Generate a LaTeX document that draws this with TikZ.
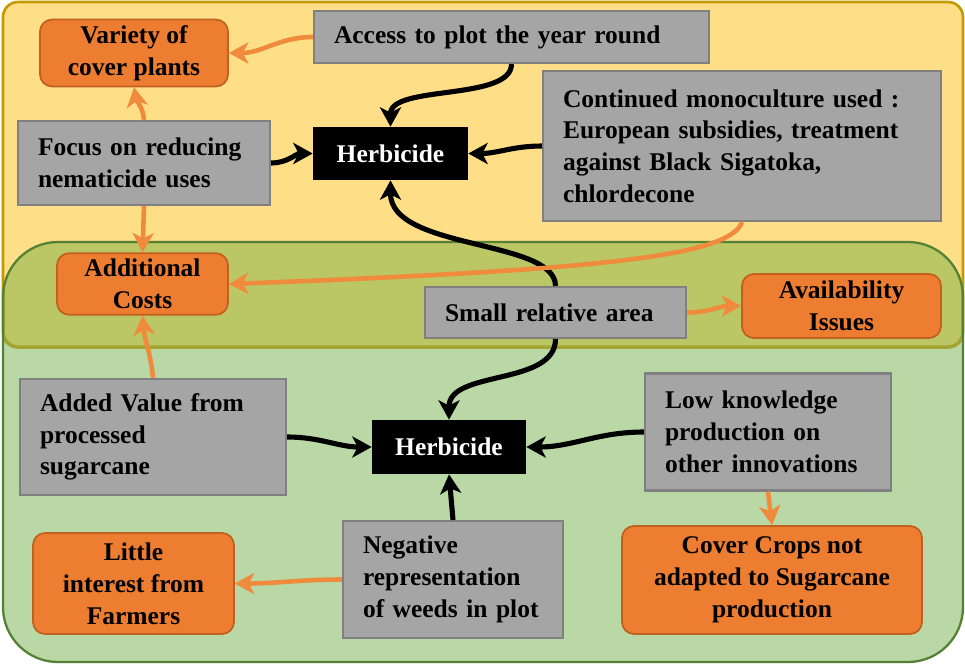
\documentclass[tikz,border=0pt]{standalone}
\usepackage{fontspec}
\setmainfont{Liberation Serif}
\usepackage{xcolor}
\usetikzlibrary{arrows.meta}
\definecolor{yellowbg}{HTML}{FEDF87}
\definecolor{goldline}{HTML}{C49A00}
\definecolor{greenbg}{HTML}{B9D8A6}
\definecolor{greenline}{HTML}{538135}
\definecolor{oliveband}{HTML}{BBC664}
\definecolor{oliveline}{HTML}{A3A532}
\definecolor{boxgray}{HTML}{A5A5A5}
\definecolor{boxline}{HTML}{808080}
\definecolor{orangebox}{HTML}{ED7D31}
\definecolor{orangeline}{HTML}{C2601F}
\definecolor{orangearrow}{HTML}{F08A3C}

\begin{document}
\begin{tikzpicture}[x=0.02cm, y=0.02cm,
        every node/.style={font=\fontsize{14.5}{18.1}\selectfont\bfseries},
        cause/.style={draw=boxline, fill=boxgray, line width=1.2pt, align=left, inner xsep=1pt},
        impact/.style={draw=orangeline, fill=orangebox, line width=1pt, rounded corners=0.24cm, align=center},
        herbicide/.style={fill=black, text=white},
        blk/.style={-{Stealth[length=11pt,width=12pt,inset=3pt]}, line width=2.9pt, black},
        org/.style={-{Stealth[length=11pt,width=12pt,inset=3pt]}, line width=2.6pt, orangearrow}]
        \useasboundingbox (0,0) rectangle (965,-664);

        % background areas
        \filldraw[fill=yellowbg, draw=goldline, line width=1.5pt, rounded corners=0.3cm] (3,-2) rectangle (963,-347);
        \fill[greenbg, rounded corners=1.1cm] (3,-242) rectangle (963,-662);
        \begin{scope}
            \clip[rounded corners=1.1cm] (3,-242) rectangle (963,-662);
            \filldraw[fill=oliveband, draw=oliveline, line width=2pt, rounded corners=0.3cm] (3,-2) rectangle (963,-347);
        \end{scope}
        \draw[greenline, line width=1.3pt, rounded corners=1.1cm] (3,-242) rectangle (963,-662);

        % upper part
        \node[impact, minimum width=3.76cm, minimum height=1.32cm] (var) at (134,-53) {Variety of\\cover plants};
        \node[cause, minimum width=7.9cm, minimum height=1.04cm, text width=7.1cm] (access) at (511.5,-37) {Access to plot the year round};
        \node[cause, minimum width=5.04cm, minimum height=1.68cm, text width=4.24cm] (focus) at (144,-163) {Focus on reducing\\nematicide uses};
        \node[herbicide, minimum width=3.1cm, minimum height=1.06cm] (herbT) at (390.5,-153.5) {Herbicide};
        \node[cause, minimum width=7.96cm, minimum height=3cm, text width=7.16cm] (mono) at (742,-146) {Continued monoculture used :\\European subsidies, treatment\\against Black Sigatoka,\\chlordecone};

        % middle band
        \node[impact, minimum width=3.42cm, minimum height=1.16cm] (cost) at (142.5,-284) {Additional\\Costs};
        \node[cause, minimum width=5.22cm, minimum height=1.02cm, text width=4.42cm] (small) at (555.5,-312.5) {Small relative area};
        \node[impact, minimum width=3.98cm, minimum height=1.28cm] (avail) at (841.5,-306) {Availability\\Issues};

        % lower part
        \node[cause, minimum width=5.32cm, minimum height=2.32cm, text width=4.52cm] (added) at (153,-437) {Added Value from\\processed\\sugarcane};
        \node[herbicide, minimum width=3.08cm, minimum height=1.08cm] (herbB) at (449,-447) {Herbicide};
        \node[cause, minimum width=4.92cm, minimum height=2.34cm, text width=4.12cm] (lowk) at (768,-432) {Low knowledge\\production on\\other innovations};
        \node[impact, minimum width=4.02cm, minimum height=2.02cm] (little) at (133.5,-583.5) {Little\\interest from\\Farmers};
        \node[cause, minimum width=4.4cm, minimum height=2.34cm, text width=3.6cm] (neg) at (453,-579.5) {Negative\\representation\\of weeds in plot};
        \node[impact, minimum width=6cm, minimum height=2.16cm] (cover) at (772,-580) {Cover Crops not\\adapted to Sugarcane\\production};

        % black links
        \draw[blk] (access.south) .. controls +(0,-37) and +(0,42) .. (herbT.north);
        \draw[blk] (mono) to[out=180,in=0] (herbT);
        \draw[blk] (focus) to[out=0,in=180] (herbT);
        \draw[blk] (small.north) .. controls +(0,47) and +(0,-70) .. (herbT.south);
        \draw[blk] (small.south) .. controls +(0,-47) and +(0,50) .. (herbB.north);
        \draw[blk] (added) to[out=0,in=180] (herbB);
        \draw[blk] (lowk) to[out=180,in=0] (herbB);
        \draw[blk] (neg.north) -- (herbB.south);

        % orange links
        \draw[org] (access) to[out=180,in=0] (var);
        \draw[org] (focus.north) to[out=95,in=-80] (var.south);
        \draw[org] (focus.south) -- (cost.north);
        \draw[org] (mono.south) .. controls +(-12,-34) and +(372,14) .. (cost.east);
        \draw[org] (added.north) to[out=95,in=-85] (cost.south);
        \draw[org] (small) to[out=0,in=180] (avail);
        \draw[org] (neg) to[out=180,in=0] (little);
        \draw[org] (lowk.south) -- (cover.north);
    \end{tikzpicture}
\end{document}
